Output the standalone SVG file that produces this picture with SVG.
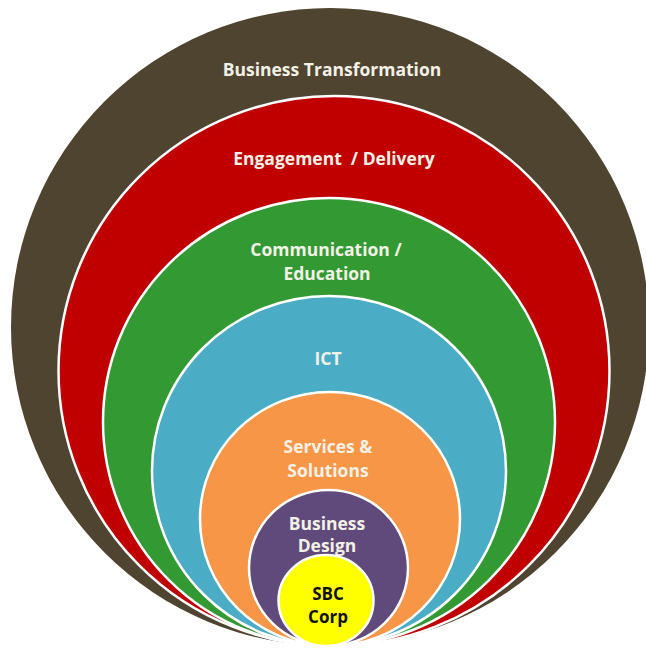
<svg xmlns="http://www.w3.org/2000/svg" width="646" height="650" viewBox="0 0 646 650">
<style>
.ring{stroke:#ffffff;stroke-width:2.5}
.lbl{font-family:"Open Sans",Lato,"Liberation Sans",sans-serif;font-weight:bold;font-size:17.5px;text-anchor:middle;fill:#f3f1e6}
.dark{fill:#111111;font-size:17px}
</style>
<rect width="646" height="650" fill="#ffffff"/>
<g id="business-transformation">
<ellipse cx="330" cy="327" rx="319" ry="319" fill="#4e4430"/>
<text class="lbl" x="332" y="76">Business Transformation</text>
</g>
<g id="engagement-delivery">
<ellipse class="ring" cx="334" cy="371" rx="275.5" ry="275" fill="#c00000"/>
<text class="lbl" x="334" y="165" xml:space="preserve">Engagement  / Delivery</text>
</g>
<g id="communication-education">
<ellipse class="ring" cx="329" cy="422" rx="226" ry="224" fill="#339933"/>
<text class="lbl" x="326" y="256">Communication /</text>
<text class="lbl" x="327" y="280">Education</text>
</g>
<g id="ict">
<ellipse class="ring" cx="329" cy="471" rx="177" ry="175" fill="#4bacc6"/>
<text class="lbl" x="328" y="365">ICT</text>
</g>
<g id="services-solutions">
<ellipse class="ring" cx="330" cy="519" rx="130" ry="127" fill="#f79646"/>
<text class="lbl" x="328" y="453">Services &amp;</text>
<text class="lbl" x="328" y="477">Solutions</text>
</g>
<g id="business-design">
<ellipse class="ring" cx="328.5" cy="568" rx="79.5" ry="78" fill="#604a7b"/>
<text class="lbl" x="327" y="530">Business</text>
<text class="lbl" x="327" y="552">Design</text>
</g>
<g id="sbc-corp">
<ellipse class="ring" cx="326" cy="600.5" rx="47.5" ry="45.5" fill="#ffff00"/>
<text class="lbl dark" x="328" y="600">SBC</text>
<text class="lbl dark" x="328" y="623">Corp</text>
</g>
<g id="connectors"/>
</svg>
